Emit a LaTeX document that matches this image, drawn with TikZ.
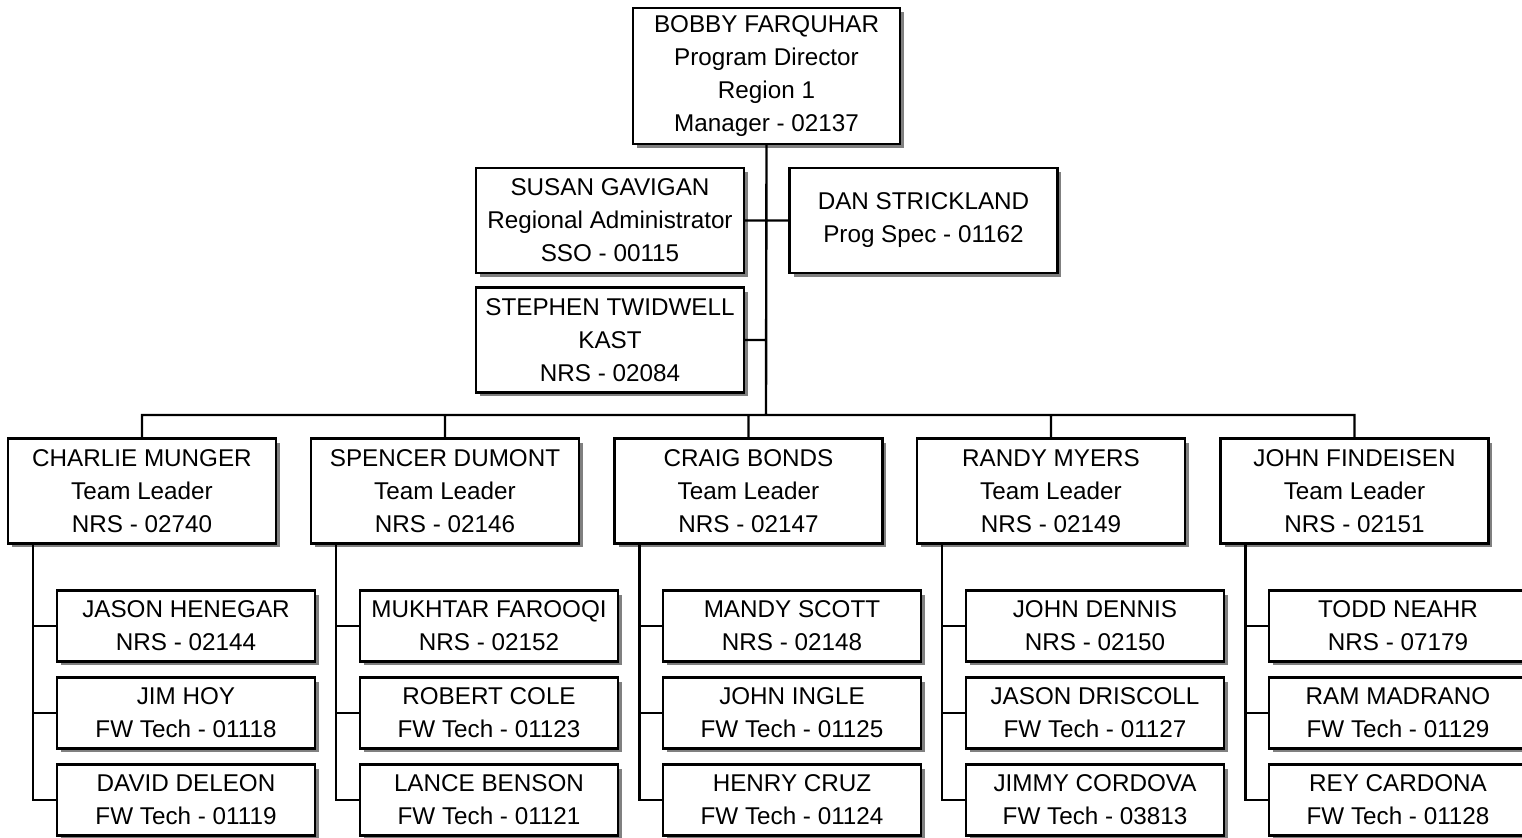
\documentclass[tikz,border=0pt]{standalone}
\usepackage{fontspec}
\setmainfont{Liberation Sans}
\usetikzlibrary{shadows}

\tikzset{
  card/.style={draw, fill=white, line width=1.35pt, align=center, inner sep=0pt,
    font=\fontsize{13.8}{18.8}\selectfont,
    drop shadow={shadow xshift=0.08cm, shadow yshift=-0.08cm, fill=black!50, opacity=1}},
  boss/.style={card, minimum width=5.34cm, minimum height=2.72cm},
  lead/.style={card, minimum width=5.36cm, minimum height=2.1cm},
  staff/.style={card, minimum width=5.16cm, minimum height=1.42cm},
  wire/.style={line width=1.35pt}
}

\begin{document}
\begin{tikzpicture}[x=0.02cm, y=-0.02cm]
    \useasboundingbox (0, 0) rectangle (1522, 838);
    \clip (0, 0) rectangle (1522, 838);
    % top of the chart
    \path (766.5, 76) node[boss] (bf) {BOBBY FARQUHAR\\Program Director\\Region 1\\Manager - 02137}
          (610, 220.5) node[lead] (sg) {SUSAN GAVIGAN\\Regional Administrator\\SSO - 00115}
          (923.5, 220.5) node[lead] (ds) {DAN STRICKLAND\\Prog Spec - 01162}
          (610, 340) node[lead] (st) {STEPHEN TWIDWELL\\KAST\\NRS - 02084};
    % team leaders
    \path (142, 491) node[lead] (cm) {CHARLIE MUNGER\\Team Leader\\NRS - 02740}
          (445, 491) node[lead] (sd) {SPENCER DUMONT\\Team Leader\\NRS - 02146}
          (748.5, 491) node[lead] (cb) {CRAIG BONDS\\Team Leader\\NRS - 02147}
          (1051, 491) node[lead] (rm) {RANDY MYERS\\Team Leader\\NRS - 02149}
          (1354.5, 491) node[lead] (jf) {JOHN FINDEISEN\\Team Leader\\NRS - 02151};
    % staff, one column per team
    \path (186, 626) node[staff] (jh) {JASON HENEGAR\\NRS - 02144}
          (186, 713) node[staff] (jy) {JIM HOY\\FW Tech - 01118}
          (186, 800) node[staff] (dd) {DAVID DELEON\\FW Tech - 01119};
    \path (489, 626) node[staff] (mf) {MUKHTAR FAROOQI\\NRS - 02152}
          (489, 713) node[staff] (rc) {ROBERT COLE\\FW Tech - 01123}
          (489, 800) node[staff] (lb) {LANCE BENSON\\FW Tech - 01121};
    \path (792, 626) node[staff] (ms) {MANDY SCOTT\\NRS - 02148}
          (792, 713) node[staff] (ji) {JOHN INGLE\\FW Tech - 01125}
          (792, 800) node[staff] (hc) {HENRY CRUZ\\FW Tech - 01124};
    \path (1095, 626) node[staff] (jd) {JOHN DENNIS\\NRS - 02150}
          (1095, 713) node[staff] (jr) {JASON DRISCOLL\\FW Tech - 01127}
          (1095, 800) node[staff] (jc) {JIMMY CORDOVA\\FW Tech - 03813};
    \path (1398, 626) node[staff] (tn) {TODD NEAHR\\NRS - 07179}
          (1398, 713) node[staff] (ra) {RAM MADRANO\\FW Tech - 01129}
          (1398, 800) node[staff] (ry) {REY CARDONA\\FW Tech - 01128};
    % trunk and bus
    \coordinate (bus) at (766, 415);
    \draw[wire] (bf.south) -- (bus)
                (sg.east) -- (ds.west)
                (st.east) -- (st.east -| bf.south)
                (cm.north) |- (bus) -| (jf.north)
                (sd.north) -- (sd.north |- bus)
                (cb.north) -- (cb.north |- bus)
                (rm.north) -- (rm.north |- bus);
    % team spines
    \draw[wire] ([xshift=0.52cm]cm.south west) |- (dd.west)
                (jh.west) -- ++(-23, 0) (jy.west) -- ++(-23, 0);
    \draw[wire] ([xshift=0.52cm]sd.south west) |- (lb.west)
                (mf.west) -- ++(-23, 0) (rc.west) -- ++(-23, 0);
    \draw[wire] ([xshift=0.52cm]cb.south west) |- (hc.west)
                (ms.west) -- ++(-23, 0) (ji.west) -- ++(-23, 0);
    \draw[wire] ([xshift=0.52cm]rm.south west) |- (jc.west)
                (jd.west) -- ++(-23, 0) (jr.west) -- ++(-23, 0);
    \draw[wire] ([xshift=0.52cm]jf.south west) |- (ry.west)
                (tn.west) -- ++(-23, 0) (ra.west) -- ++(-23, 0);
  \end{tikzpicture}
\end{document}
